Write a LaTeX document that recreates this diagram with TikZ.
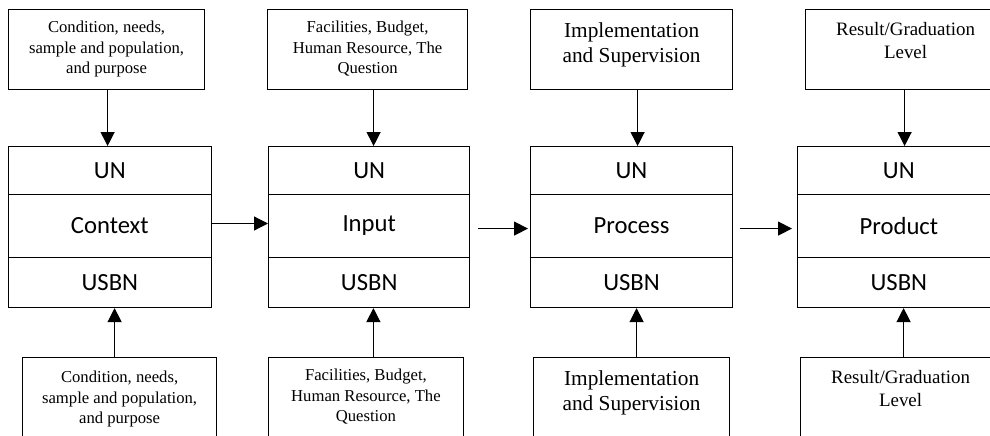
\documentclass[tikz,border=0pt]{standalone}
\usepackage{fontspec}
\setmainfont{Liberation Serif}
\newfontfamily\bandfont{Carlito}
\usetikzlibrary{arrows.meta}
% text box body: height, width, first baseline, text
\newcommand{\boxtext}[4]{\parbox[c][#1][t]{#2}{\centering\rule{0pt}{#3}#4}}

\begin{document}
\begin{tikzpicture}[x=0.75pt,y=-0.75pt,
  textbox/.style={draw, line width=0.9pt, inner sep=0pt, anchor=north west},
  smalltxt/.style={font=\fontsize{12.5}{15.5}\selectfont},
  band/.style={draw, line width=0.8pt, inner sep=0pt, anchor=north west,
    minimum width=152pt, font=\bandfont\fontsize{18.5}{22}\selectfont},
  topband/.style={band, minimum height=36pt},
  midband/.style={band, minimum height=47.25pt},
  lowband/.style={band, minimum height=37.5pt},
  arr/.style={line width=0.9pt, -{Triangle[length=10.5pt,width=10.5pt]}}]
\useasboundingbox (0,0) rectangle (990,436);
\clip (0,0) rectangle (990,436);

% upper text boxes
\node[textbox,smalltxt] (t1) at (8,9)
  {\boxtext{60pt}{147pt}{17.25pt}{Condition, needs,\\ sample and population,\\ and purpose}};
\node[textbox,smalltxt] (t2) at (267,9)
  {\boxtext{60pt}{150pt}{17.25pt}{Facilities, Budget,\\ Human Resource, The\\ Question}};
\node[textbox,font=\fontsize{16}{19}\selectfont] (t3) at (530,9)
  {\boxtext{60pt}{151.5pt}{21pt}{Implementation\\ and Supervision}};
\node[textbox,font=\fontsize{14.2}{17.25}\selectfont] (t4) at (805,9)
  {\boxtext{60pt}{150pt}{19.5pt}{Result/Graduation\\ Level}};

% main boxes
\node[topband] (un1) at (8,146) {UN};
\node[midband] (ctx) at (8,194) {Context};
\node[lowband] (usbn1) at (8,257) {USBN};

\node[topband,minimum width=151pt] (un2) at (268,146) {UN};
\node[midband,minimum width=151pt] (inp) at (268,194) {Input};
\node[lowband,minimum width=151pt] (usbn2) at (268,257) {USBN};

\node[topband,minimum width=151.5pt] (un3) at (530,146) {UN};
\node[midband,minimum width=151.5pt] (prc) at (530,194) {Process};
\node[lowband,minimum width=151.5pt] (usbn3) at (530,257) {USBN};

\node[topband] (un4) at (797,146) {UN};
\node[midband] (prd) at (797,194) {Product};
\node[lowband] (usbn4) at (797,257) {USBN};

% lower text boxes
\node[textbox,smalltxt] (b1) at (22,357)
  {\boxtext{72pt}{145.5pt}{18.75pt}{Condition, needs,\\ sample and population,\\ and purpose}};
\node[textbox,smalltxt] (b2) at (268,357)
  {\boxtext{72pt}{146pt}{17.25pt}{Facilities, Budget,\\ Human Resource, The\\ Question}};
\node[textbox,font=\fontsize{16}{19}\selectfont] (b3) at (533,357)
  {\boxtext{72pt}{147pt}{21pt}{Implementation\\ and Supervision}};
\node[textbox,font=\fontsize{14.2}{17.25}\selectfont] (b4) at (800,357)
  {\boxtext{72pt}{150pt}{19.5pt}{Result/Graduation\\ Level}};

% arrows down
\draw[arr] ([xshift=0.75pt]t1.south) -- ([xshift=0.75pt]t1.south |- un1.north);
\draw[arr] ([xshift=4.5pt]t2.south) -- ([xshift=4.5pt]t2.south |- un2.north);
\draw[arr] ([xshift=4.5pt]t3.south) -- ([xshift=4.5pt]t3.south |- un3.north);
\draw[arr] ([xshift=-0.75pt]t4.south) -- ([xshift=-0.75pt]t4.south |- un4.north);

% arrows up
\draw[arr] ([xshift=-3.75pt]b1.north) -- ([xshift=-3.75pt]b1.north |- usbn1.south);
\draw[arr] ([xshift=5.6pt]b2.north) -- ([xshift=5.6pt]b2.north |- usbn2.south);
\draw[arr] ([xshift=3.75pt]b3.north) -- ([xshift=3.75pt]b3.north |- usbn3.south);
\draw[arr] ([xshift=2.25pt]b4.north) -- ([xshift=2.25pt]b4.north |- usbn4.south);

% arrows across
\draw[arr] ([yshift=1.9pt]ctx.east) -- ([yshift=1.9pt]ctx.east -| inp.west);
\draw[arr,shorten <=6pt,shorten >=1.5pt] ([yshift=-1.9pt]inp.east) -- ([yshift=-1.9pt]inp.east -| prc.west);
\draw[arr,shorten <=5pt,shorten >=3.75pt] ([yshift=-1.9pt]prc.east) -- ([yshift=-1.9pt]prc.east -| prd.west);
\end{tikzpicture}
\end{document}
